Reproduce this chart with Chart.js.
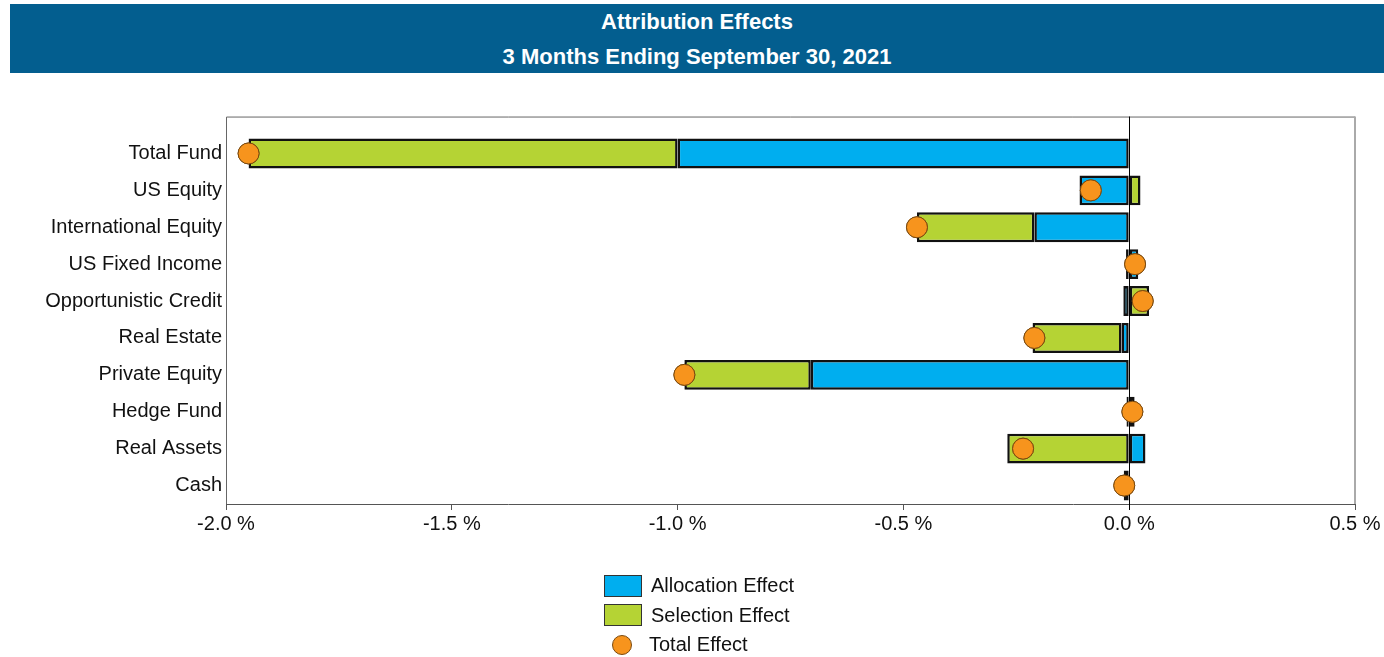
<!DOCTYPE html>
<html>
<head>
<meta charset="utf-8">
<script src="https://cdn.jsdelivr.net/npm/chart.js@4"></script>
<style>
  body { margin: 0; background: #fff; font-family: "Liberation Sans Narrow", "Arial Narrow", "Liberation Sans", sans-serif; }
  #wrap { position: relative; width: 1384px; height: 657px; }
  #banner {
    position: absolute; left: 10px; top: 4px; width: 1374px; height: 69px;
    background: #035e8f; color: #fff; text-align: center; font-weight: bold; font-size: 22px;
  }
  #banner div { position: absolute; left: 0; right: 0; }
  #legend { position: absolute; left: 604px; top: 571px; font-size: 20px; color: #111; }
  .row { display: flex; align-items: center; height: 29.5px; }
  .sw { width: 36px; height: 20px; border: 1px solid #333; margin-right: 9px; }
  .dot { width: 20px; height: 20px; border-radius: 50%; border: 1px solid #7a4a10; margin: 0 17px 0 8px; box-sizing: border-box; }
</style>
</head>
<body>
<div id="wrap">
  <canvas id="attrChart" width="1384" height="657"></canvas>
  <div id="banner">
    <div style="top:5px">Attribution Effects</div>
    <div style="top:40px">3 Months Ending September 30, 2021</div>
  </div>
  <div id="legend"></div>
</div>
<script>
const categories = ['Total Fund', 'US Equity', 'International Equity', 'US Fixed Income', 'Opportunistic Credit',
                    'Real Estate', 'Private Equity', 'Hedge Fund', 'Real Assets', 'Cash']
const allocation = [-1.00, -0.11, -0.21, 0.02, -0.013, -0.017, -0.705, 0.012, 0.036, -0.012]
const selection  = [-0.95, 0.025, -0.26, -0.007, 0.044, -0.197, -0.28, -0.006, -0.27, 0.0]
const totalEffect = [-1.95, -0.085, -0.47, 0.013, 0.03, -0.21, -0.985, 0.007, -0.235, -0.011]
const xTicks = [-2.0, -1.5, -1.0, -0.5, 0.0, 0.5]

const FONT = "'Liberation Sans Narrow', 'Arial Narrow', 'Liberation Sans', sans-serif"

// frame round the plot and the black zero line
const framePlugin = {
    id: 'frame',
    afterDatasetsDraw(chart) {
        const { ctx, chartArea: a, scales } = chart
        const half = (a.bottom - a.top) / categories.length / 2
        const top = a.top - half
        ctx.save()
        ctx.lineWidth = 1
        ctx.strokeStyle = '#666'
        ctx.beginPath()
        ctx.moveTo(a.left + 0.5, a.bottom)
        ctx.lineTo(a.left + 0.5, top + 0.5)
        ctx.lineTo(a.right, top + 0.5)
        ctx.stroke()
        ctx.strokeStyle = '#aaa'
        ctx.lineWidth = 2
        ctx.beginPath()
        ctx.moveTo(a.right, top)
        ctx.lineTo(a.right, a.bottom)
        ctx.stroke()
        const x0 = Math.round(scales.x.getPixelForValue(0)) + 0.5
        ctx.strokeStyle = '#000'
        ctx.lineWidth = 1
        ctx.beginPath()
        ctx.moveTo(x0, top)
        ctx.lineTo(x0, a.bottom + 6)
        ctx.stroke()
        ctx.restore()
    }
}

// redraw points on top of the zero line
const pointsOnTop = {
    id: 'pointsOnTop',
    afterDraw(chart) {
        chart.getDatasetMeta(2).controller.draw()
    }
}

const ctx = document.getElementById('attrChart').getContext('2d')

const chart = new Chart(ctx, {
    type: 'bar',
    data: {
        labels: categories,
        datasets: [{
            label: 'Allocation Effect',
            data: allocation,
            backgroundColor: '#00aeef',
            borderColor: '#111',
            borderWidth: 2.5,
            borderSkipped: false,
            stack: 'effects',
            order: 1
        }, {
            label: 'Selection Effect',
            data: selection,
            backgroundColor: '#b5d334',
            borderColor: '#111',
            borderWidth: 2.5,
            borderSkipped: false,
            stack: 'effects',
            order: 1
        }, {
            type: 'line',
            label: 'Total Effect',
            data: totalEffect,
            showLine: false,
            stack: 'total',
            pointRadius: 10.5,
            pointHoverRadius: 10.5,
            pointBackgroundColor: '#f7941d',
            pointBorderColor: '#7a4a10',
            pointBorderWidth: 1,
            order: 0
        }]
    },
    options: {
        indexAxis: 'y',
        responsive: false,
        animation: false,
        events: [],
        barPercentage: 0.81,
        categoryPercentage: 1,
        layout: { padding: { top: 135, right: 29, left: 0, bottom: 0 } },
        scales: {
            x: {
                type: 'linear',
                stacked: true,
                min: -2.0,
                max: 0.5,
                afterBuildTicks: s => { s.ticks = xTicks.map(v => ({ value: v })) },
                afterFit: s => { s.height = 153 },
                grid: { drawOnChartArea: false, drawTicks: true, tickLength: 6, color: '#555' },
                border: { display: true, color: '#555' },
                ticks: {
                    color: '#111',
                    padding: 2,
                    maxRotation: 0,
                    font: { family: FONT, size: 20 },
                    callback: v => v.toFixed(1) + ' %'
                }
            },
            y: {
                stacked: true,
                afterFit: s => { s.width = 226 },
                grid: { display: false, drawTicks: false },
                border: { display: false },
                ticks: {
                    color: '#111',
                    padding: 4,
                    font: { family: FONT, size: 20 }
                }
            }
        },
        plugins: {
            legend: { display: false },
            tooltip: { enabled: false }
        }
    },
    plugins: [framePlugin, pointsOnTop]
})

// legend stacked one per row, built from the datasets
const legend = document.getElementById('legend')
chart.data.datasets.forEach(ds => {
    const row = document.createElement('div')
    row.className = 'row'
    const mark = document.createElement('div')
    if (ds.type === 'line') {
        mark.className = 'dot'
        mark.style.background = ds.pointBackgroundColor
    } else {
        mark.className = 'sw'
        mark.style.background = ds.backgroundColor
    }
    const txt = document.createElement('span')
    txt.textContent = ds.label
    row.appendChild(mark)
    row.appendChild(txt)
    legend.appendChild(row)
})
</script>
</body>
</html>
